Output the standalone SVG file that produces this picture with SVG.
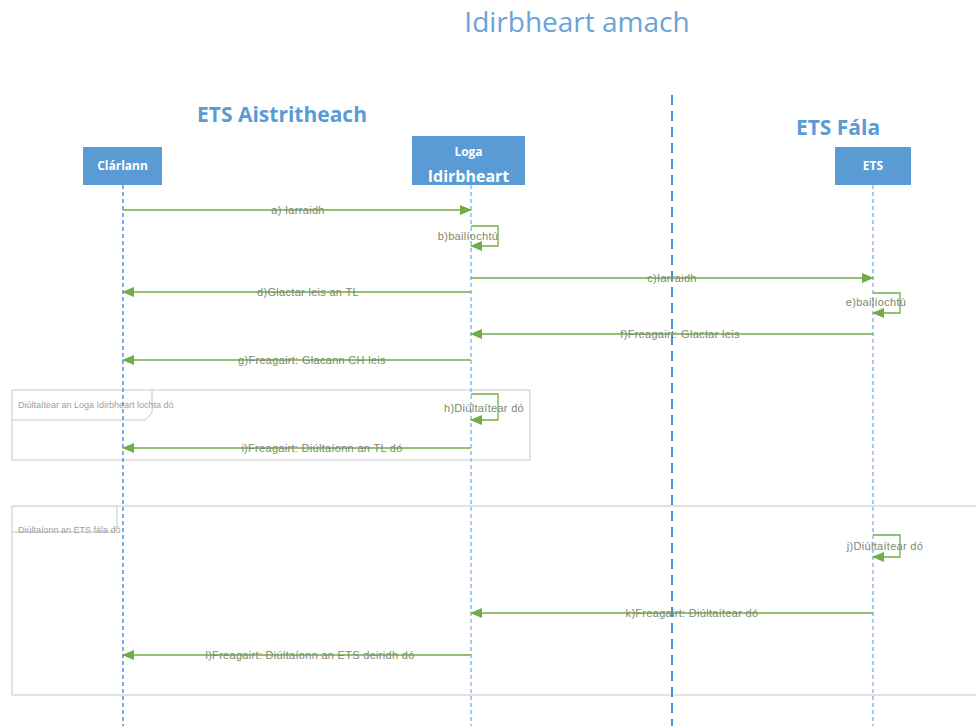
<svg xmlns="http://www.w3.org/2000/svg" width="976" height="726" viewBox="0 0 976 726">
<style>
.title{font-family:"Open Sans","Liberation Sans",sans-serif;fill:#6aa3da}
.sys{font-family:"Open Sans","Liberation Sans",sans-serif;font-weight:bold;fill:#5b9bd5;font-size:21px}
.box{fill:#5b9bd5}
.btxt{font-family:"Open Sans","Liberation Sans",sans-serif;font-weight:bold;fill:#ffffff;text-anchor:middle}
.life{stroke:#7fb0e0;stroke-width:1.3;stroke-dasharray:4,3;fill:none}
.div{stroke:#4a8fd8;stroke-width:2;stroke-dasharray:10,6;fill:none}
.msg{stroke:#70ad47;stroke-width:1.3;fill:none}
.lbl{font-family:"Liberation Sans",sans-serif;font-size:11px;letter-spacing:0.3px;fill:#7c8a6e;text-anchor:middle}
.frame{stroke:#c8c8c8;stroke-width:1;fill:none}
.flbl{font-family:"Liberation Sans",sans-serif;font-size:9px;fill:#a0a0a0}
</style>
<defs>
<marker id="ah" markerWidth="12" markerHeight="10" refX="11" refY="5" orient="auto" markerUnits="userSpaceOnUse">
<path d="M0,0 L12,5 L0,10 Z" fill="#70ad47"/>
</marker>
</defs>
<rect width="976" height="726" fill="#ffffff"/>
<text class="title" x="577" y="32" font-size="28" text-anchor="middle">Idirbheart amach</text>
<text class="sys" x="282" y="122" text-anchor="middle">ETS Aistritheach</text>
<text class="sys" x="838" y="135" text-anchor="middle">ETS Fála</text>

<g id="frames">
<rect class="frame" x="12" y="390" width="518" height="70"/>
<polyline class="frame" points="12,420 145,420 152,413 152,390"/>
<text class="flbl" x="18" y="408">Diúltaítear an Loga Idirbheart lochta dó</text>
<rect class="frame" x="12" y="506" width="970" height="189"/>
<polyline class="frame" points="12,532 112,532 117,527 117,506"/>
<text class="flbl" x="18" y="533">Diúltaíonn an ETS fála dó</text>
</g>

<g id="lifelines">
<line class="life" x1="123" y1="185" x2="123" y2="726" style="stroke:#3c7fd0"/>
<line class="life" x1="471" y1="185" x2="471" y2="726"/>
<line class="life" x1="873" y1="185" x2="873" y2="726"/>
<line class="div" x1="672" y1="95" x2="672" y2="726"/>
</g>

<g id="clarlann">
<rect class="box" x="83" y="147" width="79" height="38"/>
<text class="btxt" x="122.5" y="170" font-size="12">Clárlann</text>
</g>
<g id="loga">
<rect class="box" x="412" y="136" width="113" height="49"/>
<text class="btxt" x="468.5" y="156" font-size="12">Loga</text>
<text class="btxt" x="468.5" y="182" font-size="16">Idirbheart</text>
</g>
<g id="ets">
<rect class="box" x="835" y="147" width="76" height="38"/>
<text class="btxt" x="873" y="170" font-size="12">ETS</text>
</g>

<g id="connectors">
<line class="msg" x1="123" y1="210" x2="471" y2="210" marker-end="url(#ah)"/>
<polyline class="msg" points="471,226 498,226 498,246 471,246" marker-end="url(#ah)"/>
<line class="msg" x1="471" y1="278" x2="873" y2="278" marker-end="url(#ah)"/>
<line class="msg" x1="471" y1="292" x2="123" y2="292" marker-end="url(#ah)"/>
<polyline class="msg" points="873,293 900,293 900,313 873,313" marker-end="url(#ah)"/>
<line class="msg" x1="873" y1="334" x2="471" y2="334" marker-end="url(#ah)"/>
<line class="msg" x1="471" y1="360" x2="123" y2="360" marker-end="url(#ah)"/>
<polyline class="msg" points="471,394 498,394 498,420 471,420" marker-end="url(#ah)"/>
<line class="msg" x1="471" y1="448" x2="123" y2="448" marker-end="url(#ah)"/>
<polyline class="msg" points="873,535 900,535 900,557 873,557" marker-end="url(#ah)"/>
<line class="msg" x1="873" y1="613" x2="471" y2="613" marker-end="url(#ah)"/>
<line class="msg" x1="471" y1="655" x2="123" y2="655" marker-end="url(#ah)"/>
</g>

<g id="labels">
<text class="lbl" x="298" y="214">a) Iarraidh</text>
<text class="lbl" x="468" y="240">b)bailíochtú</text>
<text class="lbl" x="672" y="282">c)Iarraidh</text>
<text class="lbl" x="308" y="296">d)Glactar leis an TL</text>
<text class="lbl" x="876" y="306">e)bailíochtú</text>
<text class="lbl" x="680" y="338">f)Freagairt: Glactar leis</text>
<text class="lbl" x="312" y="364">g)Freagairt: Glacann CH leis</text>
<text class="lbl" x="484" y="412">h)Diúltaítear dó</text>
<text class="lbl" x="322" y="452">i)Freagairt: Diúltaíonn an TL dó</text>
<text class="lbl" x="885" y="550">j)Diúltaítear dó</text>
<text class="lbl" x="692" y="617">k)Freagairt: Diúltaítear dó</text>
<text class="lbl" x="310" y="659">l)Freagairt: Diúltaíonn an ETS deiridh dó</text>
</g>
</svg>
